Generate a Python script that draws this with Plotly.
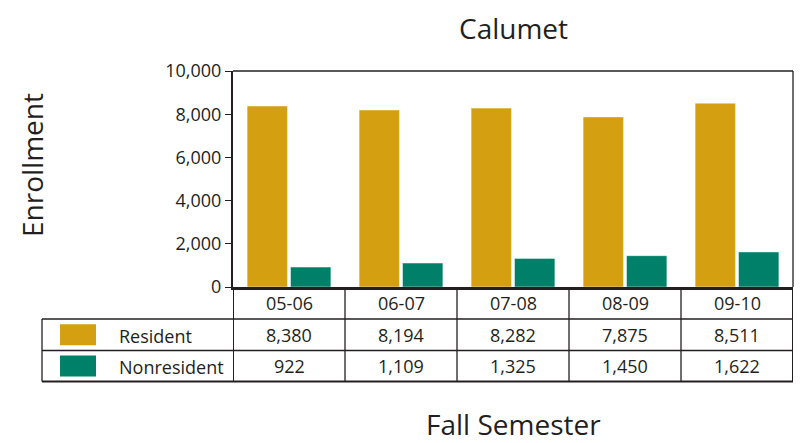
import plotly.graph_objects as go

semesters = ["05-06", "06-07", "07-08", "08-09", "09-10"]
resident = [8380, 8194, 8282, 7875, 8511]
nonresident = [922, 1109, 1325, 1450, 1622]
series_names = ["Resident", "Nonresident"]
colors = ["#D4A012", "#008068"]
y_ticks = [0, 2000, 4000, 6000, 8000, 10000]

W, H = 803, 443
L, R, T, B = 233, 10, 71, 156
PW, PH = W - L - R, H - T - B
FONT = "Open Sans"
TXT = "#231F20"


def px(x):
    return (x - L) / PW


def py(y):
    return (H - B - y) / PH


fig = go.Figure()
for name, vals, col in zip(series_names, [resident, nonresident], colors):
    fig.add_trace(go.Bar(
        x=semesters, y=vals, name=name,
        marker=dict(color=col, line=dict(color="rgba(255,255,255,0.45)", width=1)),
        showlegend=False,
    ))

shapes = []
ann = []
line = dict(color="#231F20", width=1.3)

# plot frame: top and right lines
shapes.append(dict(type="line", xref="paper", yref="paper", x0=0, x1=1, y0=1, y1=1, line=line))
shapes.append(dict(type="line", xref="paper", yref="paper", x0=1, x1=1, y0=0, y1=1, line=line))

# table geometry (pixel rows)
row_edges = [287, 319, 350.5, 381.5]
table_left = 42
shapes.append(dict(type="line", xref="paper", yref="paper", x0=px(table_left), x1=1,
                   y0=py(row_edges[1]), y1=py(row_edges[1]), line=line))
shapes.append(dict(type="line", xref="paper", yref="paper", x0=px(table_left), x1=1,
                   y0=py(row_edges[2]), y1=py(row_edges[2]), line=line))
shapes.append(dict(type="line", xref="paper", yref="paper", x0=px(table_left), x1=1,
                   y0=py(row_edges[3]), y1=py(row_edges[3]), line=dict(color="#231F20", width=2)))
shapes.append(dict(type="line", xref="paper", yref="paper", x0=px(table_left), x1=px(table_left),
                   y0=py(row_edges[1]), y1=py(row_edges[3]), line=line))
for i in range(len(semesters) + 1):
    xb = i - 0.5
    shapes.append(dict(type="line", xref="x", yref="paper", x0=xb, x1=xb,
                       y0=py(row_edges[0]), y1=py(row_edges[3]),
                       line=dict(color="#231F20", width=2 if i in (0, len(semesters)) else 1.3)))

row_centers = [(row_edges[k] + row_edges[k + 1]) / 2 for k in range(3)]
fs = 18
for i, s in enumerate(semesters):
    for k, txt in enumerate([s, f"{resident[i]:,}", f"{nonresident[i]:,}"]):
        ann.append(dict(x=i, y=py(row_centers[k]), xref="x", yref="paper", text=txt,
                        showarrow=False, xanchor="center", yanchor="middle",
                        font=dict(size=fs, color=TXT, family=FONT)))

# legend swatches + labels in table
for k, (name, col) in enumerate(zip(series_names, colors)):
    yc = row_centers[k + 1]
    shapes.append(dict(type="rect", xref="paper", yref="paper", x0=px(60), x1=px(96),
                       y0=py(yc + 10.5), y1=py(yc - 10.5), fillcolor=col, line=dict(width=0)))
    ann.append(dict(x=px(117), y=py(yc + 1), xref="paper", yref="paper", text=name, showarrow=False,
                    xanchor="left", yanchor="middle", font=dict(size=fs, color=TXT, family=FONT)))

# titles
ann.append(dict(x=0.5, y=py(28), xref="paper", yref="paper", text="Calumet", showarrow=False,
                xanchor="center", yanchor="middle", font=dict(size=28, color=TXT, family=FONT)))
ann.append(dict(x=0.5, y=py(424), xref="paper", yref="paper", text="Fall Semester", showarrow=False,
                xanchor="center", yanchor="middle", font=dict(size=28, color=TXT, family=FONT)))
ann.append(dict(x=px(32), y=py(165), xref="paper", yref="paper", text="Enrollment", showarrow=False,
                xanchor="center", yanchor="middle",
                textangle=-90, font=dict(size=28, color=TXT, family=FONT)))

fig.update_layout(
    width=W, height=H,
    margin=dict(l=L, r=R, t=T, b=B),
    paper_bgcolor="white", plot_bgcolor="white",
    barmode="group", bargap=0.225, bargroupgap=0.07,
    shapes=shapes, annotations=ann,
    font=dict(family=FONT, color=TXT),
    xaxis=dict(type="category", showticklabels=False, ticks="", showgrid=False, showline=True,
               linecolor="#231F20", linewidth=2.5, range=[-0.5, 4.5]),
    yaxis=dict(range=[0, 10000], tickvals=y_ticks, tickformat=",", ticks="outside", ticklen=6,
               tickcolor="#231F20", showgrid=False, zeroline=False, showline=True,
               linecolor="#231F20", linewidth=2, tickfont=dict(size=18, color=TXT, family=FONT)),
)

fig.write_html("out.html", config={"displayModeBar": False},
               post_script="document.body.style.margin='0';")
